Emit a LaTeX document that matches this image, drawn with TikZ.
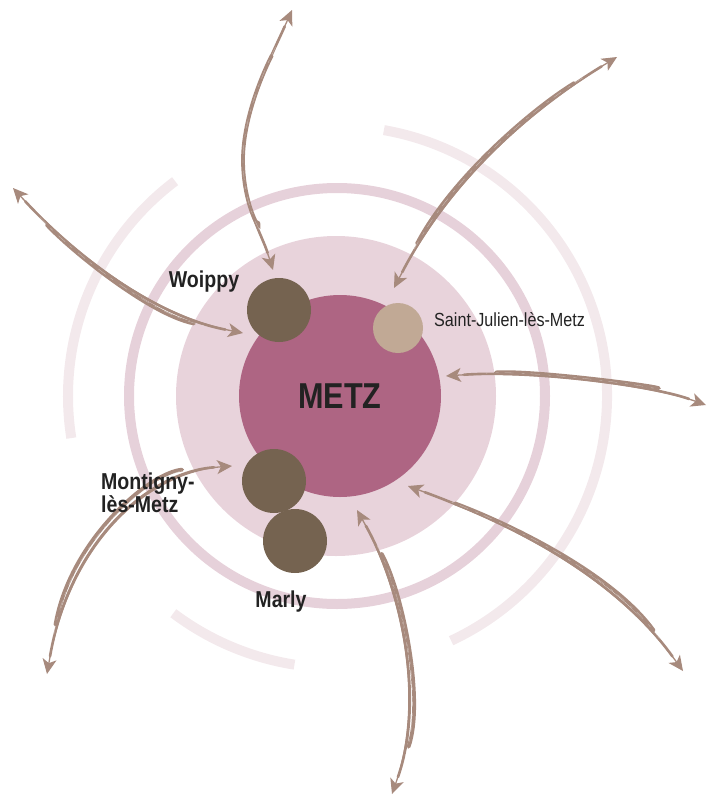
\documentclass[tikz,border=0pt]{standalone}
\usepackage{fontspec}
\setmainfont{Liberation Sans}
\newfontfamily\narrowfont[FakeStretch=0.85]{Liberation Sans}
\usetikzlibrary{arrows.meta,positioning}
\definecolor{zonec}{HTML}{E8D3DB}
\definecolor{ringc}{HTML}{E6D1DA}
\definecolor{farc}{HTML}{F3E9EC}
\definecolor{metzc}{HTML}{AE6583}
\definecolor{townc}{HTML}{756350}
\definecolor{smalltownc}{HTML}{C1A995}
\definecolor{flowc}{HTML}{A78A7D}
\definecolor{textc}{HTML}{222222}

\begin{document}
\begin{tikzpicture}[x=1pt, y=-1pt,
    town/.style={circle, fill=townc, minimum size=64pt, inner sep=0pt},
    townname/.style={font=\narrowfont\bfseries\fontsize{23}{23}\selectfont, text=textc, inner sep=0pt},
    ringline/.style={draw=ringc, line width=10pt},
    farline/.style={draw=farc, line width=10pt},
    flow/.style={draw=flowc, line width=1.3pt,
        arrows={Stealth[length=15pt,width=14pt,inset=4pt]-Stealth[length=15pt,width=14pt,inset=4pt]},
        preaction={draw=flowc, -, line cap=round, line width=2.6pt, shorten <=18pt, shorten >=18pt},
        preaction={draw=flowc, -, line cap=round, line width=3.8pt, shorten <=50pt, shorten >=50pt},
        postaction={draw=white, -, opacity=.45, line width=.3pt,
            dash pattern=on 9pt off 6pt on 3pt off 8pt, shorten <=40pt, shorten >=40pt}}
]
\useasboundingbox (0,0) rectangle (707,798);

% rings round the town
\coordinate (Centre) at (337,396);
\draw[farline] ([shift={(-80:270)}]Centre) arc[start angle=-80, end angle=65, radius=270];
\draw[farline] ([shift={(-127:269)}]Centre) arc[start angle=-127, end angle=-189, radius=269];
\draw[farline] ([shift={(127:272)}]Centre) arc[start angle=127, end angle=99, radius=272];
\draw[ringline] (Centre) circle[radius=208];

\node (Zone) [circle, fill=zonec, minimum size=320pt, inner sep=0pt] at (336,396) {};
\node (Metz) [circle, fill=metzc, minimum size=202pt, inner sep=0pt,
    font=\narrowfont\bfseries\fontsize{36}{36}\selectfont, text=textc] at (340,396) {METZ};

\node (Woippy) [town] at (279,310) {};
\node (SaintJulien) [circle, fill=smalltownc, minimum size=50pt, inner sep=0pt] at (398,328) {};
\node (Montigny) [town] at (274,481) {};
\node (Marly) [town] at (295,541) {};

\coordinate (Out01) at (292,10);
\coordinate (Out02) at (617,57);
\coordinate (Out03) at (706,405);
\coordinate (Out04) at (683,671);
\coordinate (Out05) at (392,794);
\coordinate (Out06) at (47,674);
\coordinate (Out07) at (13,188);

\draw[flow] (Out01) .. controls (272,55) and (243,110) .. (243,160)
    .. controls (243,205) and (262,235) .. ([shift={(-6,-40)}]Woippy.center);
\draw[flow] (Out02) .. controls (530,110) and (450,180) .. ([shift={(-4,-40)}]SaintJulien.center);
\draw[flow] (Out03) .. controls (650,385) and (530,370) .. ([shift={(106,-20)}]Metz.center);
\draw[flow] (Out04) .. controls (610,570) and (500,520) .. ([shift={(68,90)}]Metz.center);
\draw[flow] (Out05) .. controls (425,700) and (402,590) .. ([shift={(17,114)}]Metz.center);
\draw[flow] (Out06) .. controls (70,540) and (150,472) .. ([shift={(-42,-15)}]Montigny.center);
\draw[flow] (Out07) .. controls (70,250) and (150,315) .. ([shift={(-36,23)}]Woippy.center);

\node (WoippyName) [townname, anchor=base] at (204,287) {Woippy};
\node (SaintJulienName) [font=\narrowfont\fontsize{19}{19}\selectfont, text=textc, inner sep=0pt,
    anchor=base west] at (434,326) {Saint-Julien-lès-Metz};
\node (MontignyName) [townname, align=left, anchor=base west] at (101,512) {Montigny-\\lès-Metz};
\node (MarlyName) [townname, anchor=base] at (281,607) {Marly};
\end{tikzpicture}
\end{document}
